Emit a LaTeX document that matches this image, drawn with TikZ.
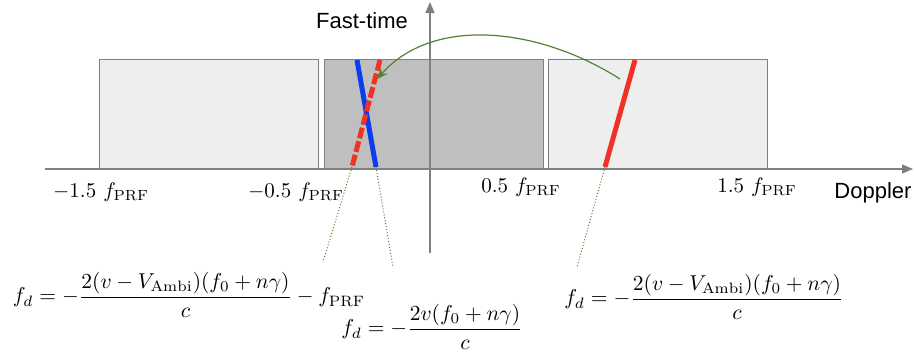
\documentclass[tikz,border=0pt]{standalone}
\usepackage{fontspec}
\usepackage{amsmath}
\usepackage{graphicx}
\usetikzlibrary{arrows.meta}
\newfontfamily\labelfont{Liberation Sans}
\definecolor{axisgray}{HTML}{7F7F7F}
\definecolor{lightbox}{HTML}{EEEEEE}
\definecolor{darkbox}{HTML}{BFBFBF}
\definecolor{lineblue}{HTML}{0A3CF0}
\definecolor{linered}{HTML}{EE3226}
\definecolor{arrowgreen}{HTML}{548235}
\newcommand{\bigmath}[2]{\scalebox{#1}{$#2$}}
\begin{document}
\begin{tikzpicture}[x=1pt,y=-1pt,
  box/.style={draw=axisgray, line width=1.3pt, anchor=north west, inner sep=0pt, minimum width=219pt, minimum height=110pt},
  axis/.style={draw=axisgray, line width=1.3pt, -{Triangle[length=11pt,width=9pt]}},
  sanslabel/.style={font=\labelfont\fontsize{22}{26}\selectfont, inner sep=0pt},
  ticklabel/.style={font=\normalsize, inner sep=0pt},
  formula/.style={font=\normalsize, inner sep=0pt},
  thickline/.style={line width=5pt},
  guide/.style={draw=arrowgreen, line width=1pt, dotted}
]
\useasboundingbox (0,0) rectangle (914,356);
\fill[white] (0,0) rectangle (914,356);
% boxes
\node[box, fill=lightbox] (bl) at (99,59) {};
\node[box, fill=darkbox] (bm) at (324,59) {};
\node[box, fill=lightbox] (br) at (548,59) {};
% axes
\coordinate (hs) at (45,169);
\coordinate (he) at (913,169);
\coordinate (vs) at (430,253);
\coordinate (ve) at (430,2);
\draw[axis] (hs) -- (he);
\draw[axis] (vs) -- (ve);
% lines
\coordinate (bt) at (357,60);
\coordinate (bb) at (376,167);
\coordinate (rt) at (380,60);
\coordinate (rb) at (352,167);
\coordinate (qt) at (635,60);
\coordinate (qb) at (605,167);
\draw[thickline, lineblue] (bt) -- (bb);
\draw[thickline, linered, dash pattern=on 11pt off 3pt] (rt) -- (rb);
\draw[thickline, linered] (qt) -- (qb);
% green arrow
\coordinate (gs) at (620,79);
\coordinate (ge) at (377,79);
\draw[arrowgreen, line width=1.2pt, -{Stealth[length=11pt,width=9pt]}] (gs) .. controls (540,28) and (434,15) .. (ge);
% labels
\node[sanslabel] (ft) at (362,21) {Fast-time};
\node[sanslabel] (dp) at (873,193) {Doppler};
\node[ticklabel] (t1) at (101,192) {\bigmath{2.1}{-1.5\ f_{\mathrm{PRF}}}};
\node[ticklabel] (t2) at (296,192) {\bigmath{2.1}{-0.5\ f_{\mathrm{PRF}}}};
\node[ticklabel] (t3) at (521,187) {\bigmath{2.1}{0.5\ f_{\mathrm{PRF}}}};
\node[ticklabel] (t4) at (757,187) {\bigmath{2.1}{1.5\ f_{\mathrm{PRF}}}};
% formulas
\node[formula] (f1) at (189,295) {\bigmath{2.15}{f_d=-\dfrac{2(v-V_{\mathrm{Ambi}})(f_0+n\gamma)}{c}-f_{\mathrm{PRF}}}};
\node[formula] (f2) at (432,327) {\bigmath{2.15}{f_d=-\dfrac{2v(f_0+n\gamma)}{c}}};
\node[formula] (f3) at (704,297) {\bigmath{2.15}{f_d=-\dfrac{2(v-V_{\mathrm{Ambi}})(f_0+n\gamma)}{c}}};
% guides
\coordinate (g1) at (323,262);
\coordinate (g2) at (393,267);
\coordinate (g3) at (577,267);
\draw[guide] (rb) -- (g1);
\draw[guide] (bb) -- (g2);
\draw[guide] (qb) -- (g3);
\end{tikzpicture}
\end{document}
